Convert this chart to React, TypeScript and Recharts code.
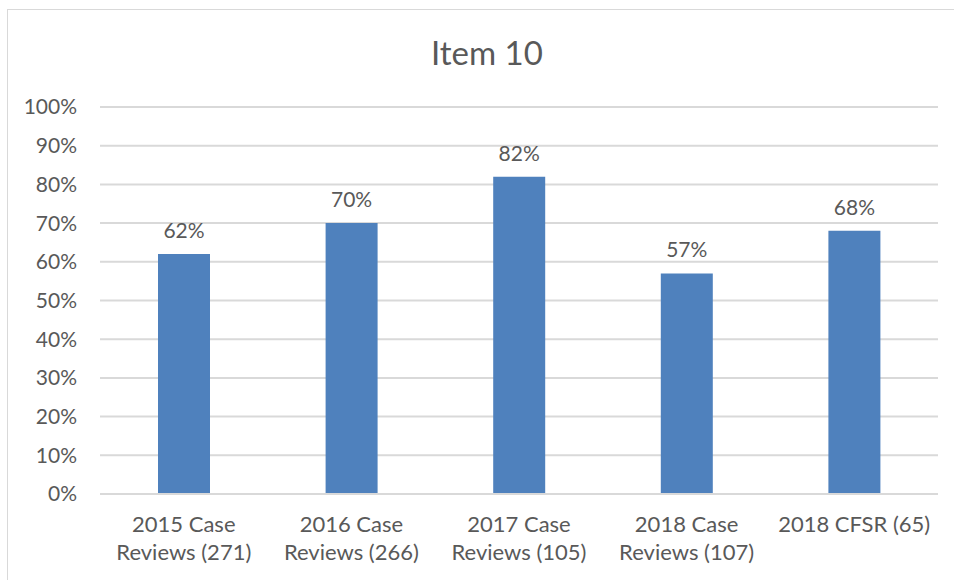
import { BarChart, Bar, XAxis, YAxis, CartesianGrid, LabelList } from 'recharts'

const categories = ['2015 Case Reviews (271)', '2016 Case Reviews (266)', '2017 Case Reviews (105)', '2018 Case Reviews (107)', '2018 CFSR (65)']
const categoryLines = [['2015 Case', 'Reviews (271)'], ['2016 Case', 'Reviews (266)'], ['2017 Case', 'Reviews (105)'], ['2018 Case', 'Reviews (107)'], ['2018 CFSR (65)']]
const values = [62, 70, 82, 57, 68]
const yTicks = [0, 10, 20, 30, 40, 50, 60, 70, 80, 90, 100]

const data = categories.map((name, i) => ({ name, value: values[i] }))

const FONT = 'Lato, "Open Sans", sans-serif'
const TEXT = '#595959'

function CategoryTick({ x, y, payload }: any) {
  const lines = categoryLines[payload.index] ?? [payload.value]
  return (
    <text x={x} y={y} textAnchor="middle" fill={TEXT} fontFamily={FONT} fontSize={22}>
      {lines.map((l, i) => (
        <tspan key={i} x={x} dy={i === 0 ? 30 : 28}>{l}</tspan>
      ))}
    </text>
  )
}

export default function App() {
  return (
    <div style={{ position: 'absolute', left: 0, top: 0, width: 954, height: 580, background: 'white', overflow: 'hidden' }}>
      <div style={{ position: 'absolute', left: 7, top: 9, width: 960, height: 600, border: '1px solid #d9d9d9', boxSizing: 'border-box' }} />
      <div style={{ position: 'absolute', left: 0, top: 32, width: 974, textAlign: 'center', fontFamily: FONT, fontSize: 33, color: TEXT, lineHeight: '40px' }}>
        Item 10
      </div>
      <BarChart
        width={954}
        height={580}
        data={data}
        margin={{ top: 107, right: 16, bottom: 0, left: 0 }}
        style={{ position: 'absolute', left: 0, top: 0 }}
      >
        <CartesianGrid vertical={false} stroke="#d9d9d9" strokeWidth={2} />
        <YAxis
          width={100}
          domain={[0, 100]}
          ticks={yTicks}
          interval={0}
          tickFormatter={(v: number) => `${v}%`}
          axisLine={false}
          tickLine={false}
          tickSize={0}
          tickMargin={23}
          tick={{ fill: TEXT, fontFamily: FONT, fontSize: 21 }}
        />
        <XAxis
          dataKey="name"
          height={86}
          axisLine={{ stroke: '#d9d9d9', strokeWidth: 2 }}
          tickLine={false}
          interval={0}
          tick={<CategoryTick />}
        />
        <Bar dataKey="value" fill="#4f81bd" barSize={52} isAnimationActive={false}>
          <LabelList
            dataKey="value"
            position="top"
            offset={16}
            formatter={(v: number) => `${v}%`}
            fill={TEXT}
            fontFamily={FONT}
            fontSize={21}
          />
        </Bar>
      </BarChart>
    </div>
  )
}
